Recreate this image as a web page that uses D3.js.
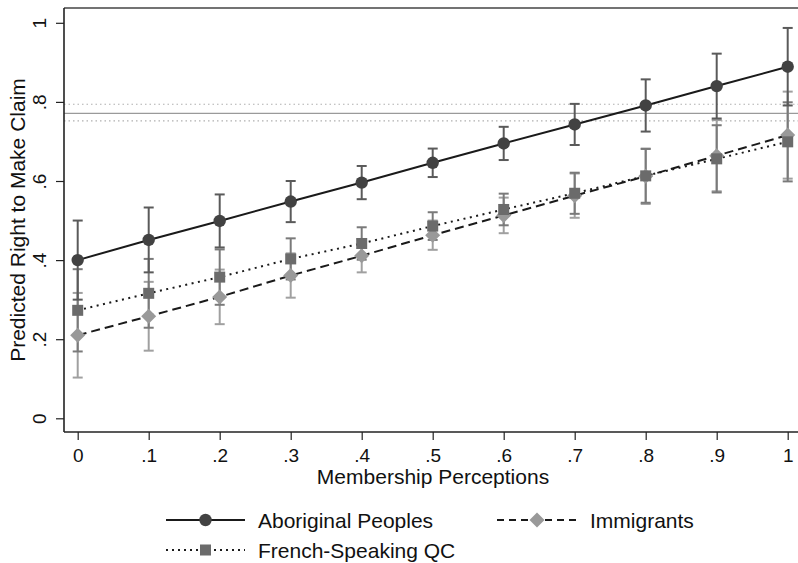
<!DOCTYPE html>
<html>
<head>
<meta charset="utf-8">
<script src="https://cdn.jsdelivr.net/npm/d3@7/dist/d3.min.js"></script>
<style>
  html, body { margin: 0; padding: 0; background: #fff; }
  svg { display: block; font-family: "Liberation Sans", Arial, Helvetica, sans-serif; }
</style>
</head>
<body>
<svg id="chart" width="798" height="563"></svg>
<script>
// ---- data ----
const xValues = [0, 0.1, 0.2, 0.3, 0.4, 0.5, 0.6, 0.7, 0.8, 0.9, 1];
const xTickLabels = ["0", ".1", ".2", ".3", ".4", ".5", ".6", ".7", ".8", ".9", "1"];
const yTickValues = [0, 0.2, 0.4, 0.6, 0.8, 1];
const yTickLabels = ["0", ".2", ".4", ".6", ".8", "1"];

const aboriginal   = [0.400, 0.451, 0.499, 0.548, 0.596, 0.646, 0.695, 0.743, 0.791, 0.840, 0.889];
const aboriginalLo = [0.300, 0.369, 0.432, 0.496, 0.554, 0.610, 0.653, 0.691, 0.725, 0.758, 0.791];
const aboriginalHi = [0.500, 0.533, 0.566, 0.600, 0.638, 0.682, 0.737, 0.795, 0.857, 0.922, 0.987];

const french   = [0.273, 0.316, 0.357, 0.403, 0.442, 0.486, 0.528, 0.569, 0.613, 0.656, 0.699];
const frenchLo = [0.169, 0.229, 0.287, 0.351, 0.401, 0.451, 0.488, 0.517, 0.545, 0.571, 0.599];
const frenchHi = [0.377, 0.403, 0.427, 0.455, 0.483, 0.521, 0.568, 0.621, 0.681, 0.741, 0.799];

const immigrants   = [0.210, 0.258, 0.307, 0.361, 0.411, 0.463, 0.513, 0.563, 0.612, 0.664, 0.716];
const immigrantsLo = [0.103, 0.171, 0.238, 0.305, 0.369, 0.426, 0.468, 0.507, 0.542, 0.574, 0.606];
const immigrantsHi = [0.317, 0.345, 0.376, 0.417, 0.453, 0.500, 0.558, 0.619, 0.682, 0.754, 0.826];

const refMean = 0.771, refLo = 0.752, refHi = 0.794;

const seriesNames = ["Aboriginal Peoples", "Immigrants", "French-Speaking QC"];

// ---- styles ----
const series = [
  { name: seriesNames[0], v: aboriginal, lo: aboriginalLo, hi: aboriginalHi,
    marker: "circle", fill: "#424242", ci: "#5a5a5a", dash: null, cap: "butt" },
  { name: seriesNames[2], v: french, lo: frenchLo, hi: frenchHi,
    marker: "square", fill: "#6b6b6b", ci: "#7a7a7a", dash: "2,4.5", cap: "butt" },
  { name: seriesNames[1], v: immigrants, lo: immigrantsLo, hi: immigrantsHi,
    marker: "diamond", fill: "#999999", ci: "#a0a0a0", dash: "9,5", cap: "butt" }
];
const lineColor = "#1a1a1a";

const svg = d3.select("#chart");
const plotLeft = 64, plotTop = 8, plotBottom = 432, plotRight = 800;

const x = d3.scaleLinear().domain([0, 1]).range([77.7, 787.7]);
const y = d3.scaleLinear().domain([0, 1]).range([418.3, 22.8]);

// frame (top line)
svg.append("line").attr("x1", plotLeft).attr("x2", plotRight)
  .attr("y1", plotTop).attr("y2", plotTop)
  .attr("stroke", "#444").attr("stroke-width", 1.5);

// reference lines
svg.append("line").attr("x1", plotLeft).attr("x2", plotRight)
  .attr("y1", y(refMean)).attr("y2", y(refMean))
  .attr("stroke", "#9a9a9a").attr("stroke-width", 1.4);
[refLo, refHi].forEach(v => {
  svg.append("line").attr("x1", plotLeft).attr("x2", plotRight)
    .attr("y1", y(v)).attr("y2", y(v))
    .attr("stroke", "#b0b0b0").attr("stroke-width", 1.2)
    .attr("stroke-dasharray", "1.5,3");
});

// axes
const yAxis = d3.axisLeft(y).tickValues(yTickValues)
  .tickFormat((d, i) => yTickLabels[i]).tickSize(8).tickSizeOuter(0);
const gy = svg.append("g").attr("transform", `translate(${plotLeft},0)`).call(yAxis);
gy.select(".domain").attr("d", `M0,${plotTop}V${plotBottom}`).attr("stroke", "#222").attr("stroke-width", 1.6);
gy.selectAll(".tick line").attr("stroke", "#222").attr("stroke-width", 1.2);
gy.selectAll(".tick text")
  .attr("transform", "rotate(-90)")
  .attr("x", 0).attr("y", -18).attr("dy", 0)
  .attr("text-anchor", "middle")
  .attr("font-size", 19).attr("fill", "#111")
  .attr("font-family", "Liberation Sans, Arial, sans-serif");

const xAxis = d3.axisBottom(x).tickValues(xValues)
  .tickFormat((d, i) => xTickLabels[i]).tickSize(8).tickSizeOuter(0);
const gx = svg.append("g").attr("transform", `translate(0,${plotBottom})`).call(xAxis);
gx.select(".domain").attr("d", `M${plotLeft},0H${plotRight}`).attr("stroke", "#222").attr("stroke-width", 1.6);
gx.selectAll(".tick line").attr("stroke", "#222").attr("stroke-width", 1.2);
gx.selectAll(".tick text")
  .attr("y", 30).attr("dy", 0)
  .attr("font-size", 19).attr("fill", "#111")
  .attr("font-family", "Liberation Sans, Arial, sans-serif");

// axis titles
svg.append("text")
  .attr("transform", `translate(25,220) rotate(-90)`)
  .attr("text-anchor", "middle")
  .attr("font-size", 21).attr("fill", "#111")
  .text("Predicted Right to Make Claim");
svg.append("text")
  .attr("x", 433).attr("y", 484)
  .attr("text-anchor", "middle")
  .attr("font-size", 21).attr("fill", "#111")
  .text("Membership Perceptions");

// marker generator
function drawMarker(g, type, cx, cy, fill) {
  if (type === "circle") {
    g.append("circle").attr("cx", cx).attr("cy", cy).attr("r", 6.2).attr("fill", fill);
  } else if (type === "square") {
    g.append("rect").attr("x", cx - 5.5).attr("y", cy - 5.5).attr("width", 11).attr("height", 11).attr("fill", fill);
  } else {
    const s = 7.5;
    g.append("path").attr("d", `M${cx},${cy - s}L${cx + s},${cy}L${cx},${cy + s}L${cx - s},${cy}Z`).attr("fill", fill);
  }
}

// error bars (lightest first)
const ciLayer = svg.append("g");
[...series].reverse().forEach(s => {
  const g = ciLayer.append("g").attr("stroke", s.ci).attr("stroke-width", 2).attr("fill", "none");
  xValues.forEach((xv, i) => {
    const cx = x(xv);
    g.append("line").attr("x1", cx).attr("x2", cx).attr("y1", y(s.lo[i])).attr("y2", y(s.hi[i]));
    g.append("line").attr("x1", cx - 5).attr("x2", cx + 5).attr("y1", y(s.lo[i])).attr("y2", y(s.lo[i]));
    g.append("line").attr("x1", cx - 5).attr("x2", cx + 5).attr("y1", y(s.hi[i])).attr("y2", y(s.hi[i]));
  });
});

// lines
const lineGen = d3.line().x((d, i) => x(xValues[i])).y(d => y(d));
series.forEach(s => {
  svg.append("path").datum(s.v)
    .attr("d", lineGen)
    .attr("fill", "none")
    .attr("stroke", lineColor)
    .attr("stroke-width", 2)
    .attr("stroke-dasharray", s.dash)
    .attr("stroke-linecap", s.cap);
});

// markers
[...series].reverse().forEach(s => {
  const g = svg.append("g");
  xValues.forEach((xv, i) => drawMarker(g, s.marker, x(xv), y(s.v[i]), s.fill));
});

// legend
const legendItems = [
  { s: series[0], x0: 166, x1: 245, tx: 258, y: 520 },
  { s: series[2], x0: 497, x1: 577, tx: 590, y: 520 },
  { s: series[1], x0: 166, x1: 245, tx: 258, y: 550 }
];
legendItems.forEach(it => {
  const g = svg.append("g");
  g.append("line").attr("x1", it.x0).attr("x2", it.x1).attr("y1", it.y).attr("y2", it.y)
    .attr("stroke", lineColor).attr("stroke-width", 2)
    .attr("stroke-dasharray", it.s.dash ? (it.s.marker === "diamond" ? "7,5" : "2,4") : null);
  drawMarker(g, it.s.marker, (it.x0 + it.x1) / 2, it.y, it.s.fill);
  g.append("text").attr("x", it.tx).attr("y", it.y + 7.5)
    .attr("font-size", 21).attr("fill", "#111").text(it.s.name);
});
</script>
</body>
</html>
